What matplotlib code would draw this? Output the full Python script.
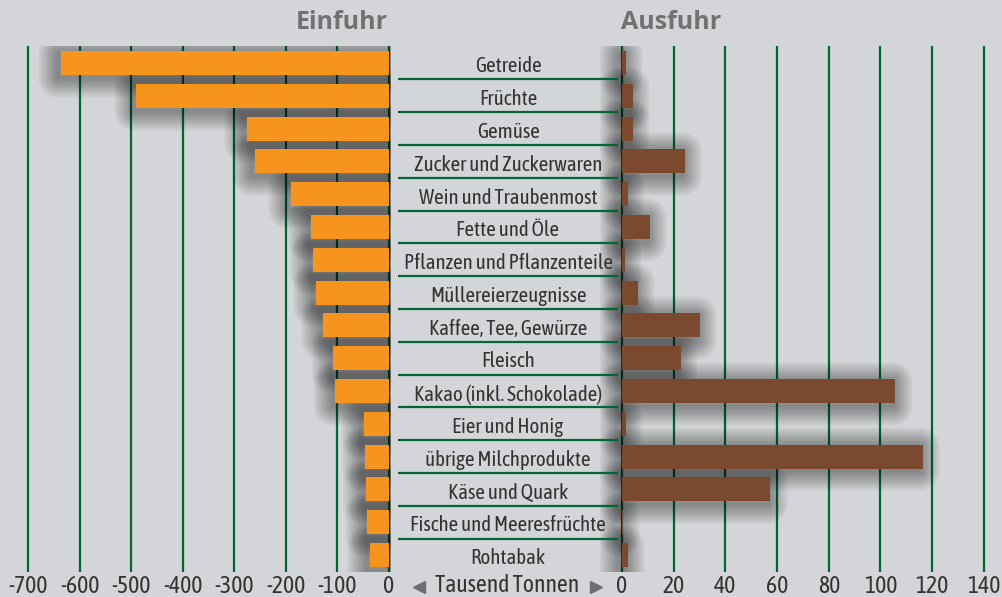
import matplotlib
matplotlib.use("Agg")
import matplotlib.pyplot as plt
import matplotlib.patheffects as pe
from matplotlib.lines import Line2D

categories = ["Getreide", "Früchte", "Gemüse", "Zucker und Zuckerwaren",
              "Wein und Traubenmost", "Fette und Öle", "Pflanzen und Pflanzenteile",
              "Müllereierzeugnisse", "Kaffee, Tee, Gewürze", "Fleisch",
              "Kakao (inkl. Schokolade)", "Eier und Honig", "übrige Milchprodukte",
              "Käse und Quark", "Fische und Meeresfrüchte", "Rohtabak"]
einfuhr = [-636, -490, -275, -260, -190, -151, -147, -142, -127, -108, -104,
           -48, -46, -45, -42, -37]
ausfuhr = [1.5, 4.3, 4.2, 24.4, 2.3, 10.9, 1.2, 6.2, 30.2, 22.9, 105.8,
           1.5, 116.3, 57.4, 0.5, 2.3]
left_ticks = [-700, -600, -500, -400, -300, -200, -100, 0]
right_ticks = [0, 20, 40, 60, 80, 100, 120, 140]

W, H = 1002, 597
BG = "#d3d5d8"
GREEN = "#006633"
ORANGE = "#f7941d"
BROWN = "#7b4a2e"
TXT = "#333333"
TITLE = "#707173"
NARROW = ["Asap Condensed", "DejaVu Sans"]
BAR_H = 0.73

fig = plt.figure(figsize=(W / 100, H / 100), dpi=100, facecolor=BG)


def fx(px):
    return px / W


def fy(py):
    return 1 - py / H


top_px, bot_px = 46, 572
YTOP, YBOT = -0.52, 15.52
hgt = (bot_px - top_px) / H

# soft shadow built from stacked translucent outline strokes (no fill)
SHADOW = [pe.Stroke(linewidth=w * 0.72, foreground="black", alpha=0.018,
                    offset=(-2, -2), joinstyle="round", capstyle="round")
          for w in range(2, 42, 2)]


def style_axis(ax, ticks, xlim):
    ax.set_facecolor("none")
    ax.set_xlim(*xlim)
    ax.set_ylim(YBOT, YTOP)
    ax.set_xticks(ticks)
    ax.set_xticklabels([str(t) for t in ticks], family=NARROW, fontsize=17, color=TXT)
    ax.set_yticks([])
    ax.tick_params(axis="x", length=0, pad=2)
    ax.grid(axis="x", color=GREEN, linewidth=1.6, zorder=1)
    ax.set_axisbelow(True)
    for s in ax.spines.values():
        s.set_visible(False)


def draw_bars(ax, vals, color):
    y = range(len(vals))
    sh = ax.barh(y, vals, height=BAR_H, facecolor="none", edgecolor="black",
                 linewidth=1, zorder=2)
    for p in sh:
        p.set_path_effects(SHADOW)
    ax.barh(y, vals, height=BAR_H, color=color, zorder=3)


# left axes (Einfuhr)
L_XLIM = (-754.3, 3.9)
axl = fig.add_axes([fx(0), fy(bot_px), fx(391), hgt])
draw_bars(axl, einfuhr, ORANGE)
style_axis(axl, left_ticks, L_XLIM)

# right axes (Ausfuhr)
R_XLIM = (-8.5, 147)
axr = fig.add_axes([fx(600), fy(bot_px), fx(W - 600), hgt])
draw_bars(axr, ausfuhr, BROWN)
style_axis(axr, right_ticks, R_XLIM)

# middle axes for category labels
axm = fig.add_axes([fx(398), fy(bot_px), fx(618 - 398), hgt])
axm.set_facecolor("none")
axm.set_xlim(0, 1)
axm.set_ylim(YBOT, YTOP)
axm.axis("off")
for i in range(len(categories) - 1):
    axm.axhline(i + 0.5, color=GREEN, linewidth=1.6)
for i, c in enumerate(categories):
    axm.text(0.5, i + 0.1, c, ha="center", va="center", family=NARROW,
             fontsize=15, color=TXT)

# titles
fig.text(fx(388), fy(29), "Einfuhr", ha="right", va="baseline", fontsize=18,
         fontweight="bold", color=TITLE, family="Open Sans")
fig.text(fx(621), fy(29), "Ausfuhr", ha="left", va="baseline", fontsize=18,
         fontweight="bold", color=TITLE, family="Open Sans")

# unit label
fig.text(fx(507), fy(585), "Tausend Tonnen", ha="center", va="center",
         family=NARROW, fontsize=17, color=TXT)
fig.add_artist(Line2D([fx(419)], [fy(587)], marker="<", markersize=8, color="#6d6e70",
                      linestyle="none", transform=fig.transFigure))
fig.add_artist(Line2D([fx(596)], [fy(587)], marker=">", markersize=8, color="#6d6e70",
                      linestyle="none", transform=fig.transFigure))

fig.savefig("out.png", dpi=100, facecolor=BG)
